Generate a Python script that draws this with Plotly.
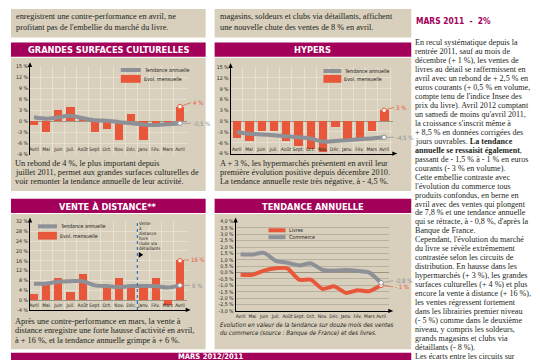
import plotly.graph_objects as go

W, H = 540, 360


def fx(p):
    return p / W


def fy(p):
    return 1 - p / H


# ---------------- data ----------------
months = ["Avril", "Mai", "Juin", "Juil.", "Août", "Sept.", "Oct.", "Nov.",
          "Déc.", "Janv.", "Fév.", "Mars", "Avril"]

gsc_monthly = [-1.0, -2.9, 3.0, 4.0, 0.9, -2.9, -2.0, -5.0, 2.0, -5.0, -0.5, -0.4, 4.0]
gsc_trend = [1.1, 0.7, 1.1, 1.5, 0.9, 0.3, 0.2, -0.2, -0.5, -0.9, -1.0, -0.8, -0.5]

hyp_monthly = [-4.7, -5.6, -2.8, -2.8, -5.6, -6.8, -7.8, -8.5, -1.7, -5.0, -5.0, -2.8, 3.0]
hyp_trend = [-3.0, -3.5, -3.7, -3.9, -4.2, -4.5, -4.8, -5.7, -5.5, -5.3, -5.0, -4.8, -4.5]

vad_monthly = [2.4, 6.0, 9.0, 3.3, 10.3, 0.0, 5.3, 9.0, 5.3, 5.0, 9.0, -2.2, 16.0]
vad_trend = [6.7, 6.7, 7.5, 7.7, 7.7, 6.0, 5.7, 5.3, 5.7, 5.7, 5.7, 5.1, 6.0]

ta_livres = [-0.18, -0.18, 0.15, 0.33, 0.33, -0.56, -0.56, -1.28, -1.08, -1.59, -1.38, -1.46, -1.0]
ta_commerce = [1.44, 1.41, 1.54, 0.92, 0.77, 0.56, 0.72, 0.2, 0.15, 0.2, 0.13, 0.0, -0.8]

gsc_ticks = [-9, -6, -3, 0, 3, 6, 9, 12, 15]
hyp_ticks = [-9, -6, -3, 0, 3, 6, 9, 12, 15]
vad_ticks = [-4, 0, 4, 8, 12, 16, 20, 24, 28, 32]
ta_ticks = [-3.0, -2.5, -2.0, -1.5, -1.0, -0.5, 0.0, 0.5, 1.0, 1.5, 2.0, 2.5, 3.0, 3.5, 4.0]

right_lines = [
    "En recul systématique depuis la",
    "rentrée 2011, sauf au mois de",
    "décembre (+ 1 %), les ventes de",
    "livres au détail se raffermissent en",
    "avril avec un rebond de + 2,5 % en",
    "euros courants (+ 0,5 % en volume,",
    "compte tenu de l'indice Insee des",
    "prix du livre). Avril 2012 comptant",
    "un samedi de moins qu'avril 2011,",
    "la croissance s'inscrit même à",
    "+ 8,5 % en données corrigées des",
    "jours ouvrables. <b>La tendance</b>",
    "<b>annuelle se ressaisit également</b>,",
    "passant de - 1,5 % à - 1 % en euros",
    "courants (- 3 % en volume).",
    "Cette embellie contraste avec",
    "l'évolution du commerce tous",
    "produits confondus, en berne en",
    "avril avec des ventes qui plongent",
    "de 7,8 % et une tendance annuelle",
    "qui se rétracte, à - 0,8 %, d'après la",
    "Banque de France.",
    "Cependant, l'évolution du marché",
    "du livre se révèle extrêmement",
    "contrastée selon les circuits de",
    "distribution. En hausse dans les",
    "hypermarchés (+ 3 %), les grandes",
    "surfaces culturelles (+ 4 %) et plus",
    "encore la vente à distance (+ 16 %),",
    "les ventes régressent fortement",
    "dans les librairies premier niveau",
    "(- 5 %) comme dans le deuxième",
    "niveau, y compris les soldeurs,",
    "grands magasins et clubs via",
    "détaillants (- 8 %).",
    "Les écarts entre les circuits sur",
]

# ---------------- styles ----------------
MAGENTA = "#a3005a"
PANEL = "#d8cfbc"
ORANGE = "#e9573b"
GRAY = "#8d9097"
TXT = "#231f20"
GRID = "#e7e0d1"
SERIF = "Liberation Serif, DejaVu Serif, serif"
COND = "Liberation Sans Narrow, DejaVu Sans Condensed, Roboto Condensed, Arial Narrow, Roboto, sans-serif"

fig = go.Figure()
shapes = []
ann = []


def rect(x0, y0, x1, y1, color):
    shapes.append(dict(type="rect", xref="paper", yref="paper", x0=fx(x0), x1=fx(x1),
                       y0=fy(y1), y1=fy(y0), fillcolor=color, line=dict(width=0),
                       layer="below"))


def line(x0, y0, x1, y1, color, width, dash=None, layer="above"):
    d = dict(type="line", xref="paper", yref="paper", x0=fx(x0), x1=fx(x1),
             y0=fy(y0), y1=fy(y1), line=dict(color=color, width=width), layer=layer)
    if dash:
        d["line"]["dash"] = dash
    shapes.append(d)


def tri(points, color):
    path = "M " + " L ".join(f"{fx(a)},{fy(b)}" for a, b in points) + " Z"
    shapes.append(dict(type="path", xref="paper", yref="paper", path=path,
                       fillcolor=color, line=dict(width=0)))


def text(x, y, s, size, color=TXT, family=SERIF, anchor="left"):
    ann.append(dict(xref="paper", yref="paper", x=fx(x), y=fy(y), text=s,
                    showarrow=False, xanchor=anchor, yanchor="middle",
                    font=dict(size=size, color=color, family=family)))


# panels
rect(2, -2, 197, 27, PANEL)
rect(206, -2, 403, 27, PANEL)
rect(2, 32, 197, 46.5, MAGENTA)
rect(2, 47.5, 197, 183, PANEL)
rect(206, 32, 403, 46.5, MAGENTA)
rect(206, 47.5, 403, 183, PANEL)
rect(2, 191, 197, 205.5, MAGENTA)
rect(2, 206.5, 197, 344, PANEL)
rect(206, 191, 403, 205.5, MAGENTA)
rect(206, 206.5, 403, 344, PANEL)
rect(2, 347.5, 403, 362, MAGENTA)

# titles
TS = 9.2
text(99.5, 39.5, "<b>GRANDES SURFACES CULTURELLES</b>", TS, "white", COND, "center")
text(304.5, 39.5, "<b>HYPERS</b>", TS, "white", COND, "center")
text(99.5, 198.5, "<b>VENTE À DISTANCE**</b>", TS, "white", COND, "center")
text(304.5, 198.5, "<b>TENDANCE ANNUELLE</b>", TS, "white", COND, "center")
text(202, 351.8, "<b>MARS 2012/2011</b>", 7.6, "white", COND, "center")

# top text boxes
text(5, 6, "enregistrent une contre-performance en avril, ne", 8.3)
text(5, 17, "profitant pas de l'embellie du marché du livre.", 8.3)
text(209, 6, "magasins, soldeurs et clubs via détaillants, affichent", 8.3)
text(209, 17, "une nouvelle chute des ventes de 8 % en avril.", 8.3)

# captions
for i, s in enumerate(["Un rebond de 4 %, le plus important depuis",
                       "juillet 2011, permet aux grandes surfaces culturelles de",
                       "voir remonter la tendance annuelle de leur activité."]):
    text(4, 155 + i * 9.3, s, 8.3)
for i, s in enumerate(["A + 3 %, les hypermarchés présentent en avril leur",
                       "première évolution positive depuis décembre 2010.",
                       "La tendance annuelle reste très négative, à - 4,5 %."]):
    text(209, 155 + i * 9.3, s, 8.3)
for i, s in enumerate(["Après une contre-performance en mars, la vente à",
                       "distance enregistre une forte hausse d'activité en avril,",
                       "à + 16 %, et la tendance annuelle grimpe à + 6 %."]):
    text(4, 316 + i * 9.3, s, 8.3)
for i, s in enumerate(["<i>Evolution en valeur de la tendance sur douze mois des ventes</i>",
                       "<i>du commerce (source : Banque de France) et des livres.</i>"]):
    text(209, 319 + i * 8.3, s, 6.2, TXT, COND)

# right column
text(406, 10, "<b>MARS 2011  -  2%</b>", 8.4, MAGENTA, COND)
for i, s in enumerate(right_lines):
    text(405, 32.5 + i * 9.1, s, 8.1)

# ---------------- charts ----------------
x = list(range(len(months)))

# chart geometry in pixels
geo = {
    1: dict(l=21, r=178, t=56, b=146, xr=[-0.33, 12.55], yr=[-9, 15]),
    2: dict(l=222, r=385, t=57, b=145, xr=[-0.5, 12.75], yr=[-9, 15]),
    3: dict(l=21, r=178, t=214, b=304, xr=[-0.33, 12.55], yr=[-4, 32]),
    4: dict(l=227, r=381, t=214, b=305, xr=[-0.43, 12.7], yr=[-3, 4]),
}

series = {
    1: (gsc_monthly, gsc_trend, gsc_ticks),
    2: (hyp_monthly, hyp_trend, hyp_ticks),
    3: (vad_monthly, vad_trend, vad_ticks),
}

for n in (1, 2, 3):
    monthly, trend, ticks = series[n]
    xa = "x" if n == 1 else f"x{n}"
    ya = "y" if n == 1 else f"y{n}"
    fig.add_trace(go.Bar(x=x, y=monthly, width=0.68, marker=dict(color=ORANGE, line=dict(width=0)),
                         xaxis=xa, yaxis=ya, showlegend=False, hoverinfo="skip"))
    fig.add_trace(go.Scatter(x=x, y=trend, mode="lines", line=dict(color=GRAY, width=4, shape="spline", smoothing=0.6),
                             xaxis=xa, yaxis=ya, showlegend=False, hoverinfo="skip"))
    fig.add_trace(go.Scatter(x=[x[-1]], y=[monthly[-1]], mode="markers",
                             marker=dict(color="white", size=4.5, line=dict(color=ORANGE, width=1)),
                             xaxis=xa, yaxis=ya, showlegend=False, hoverinfo="skip"))
    fig.add_trace(go.Scatter(x=[x[-1]], y=[trend[-1]], mode="markers",
                             marker=dict(color="white", size=4.5, line=dict(color=GRAY, width=1)),
                             xaxis=xa, yaxis=ya, showlegend=False, hoverinfo="skip"))

fig.add_trace(go.Scatter(x=x, y=ta_livres, mode="lines", line=dict(color=ORANGE, width=4, shape="spline", smoothing=0.5),
                         xaxis="x4", yaxis="y4", showlegend=False, hoverinfo="skip"))
fig.add_trace(go.Scatter(x=x, y=ta_commerce, mode="lines", line=dict(color=GRAY, width=4, shape="spline", smoothing=0.5),
                         xaxis="x4", yaxis="y4", showlegend=False, hoverinfo="skip"))
fig.add_trace(go.Scatter(x=[x[-1]], y=[ta_livres[-1]], mode="markers",
                         marker=dict(color="white", size=4.5, line=dict(color=ORANGE, width=1)),
                         xaxis="x4", yaxis="y4", showlegend=False, hoverinfo="skip"))
fig.add_trace(go.Scatter(x=[x[-1]], y=[ta_commerce[-1]], mode="markers",
                         marker=dict(color="white", size=4.5, line=dict(color=GRAY, width=1)),
                         xaxis="x4", yaxis="y4", showlegend=False, hoverinfo="skip"))

tickfont = dict(size=5.2, color=TXT, family=COND)
xtickfont = dict(size=4.9, color=TXT, family=COND)
layout_axes = {}
for n, g in geo.items():
    xk = "xaxis" if n == 1 else f"xaxis{n}"
    yk = "yaxis" if n == 1 else f"yaxis{n}"
    xa = "x" if n == 1 else f"x{n}"
    ya = "y" if n == 1 else f"y{n}"
    if n == 4:
        yt = ta_ticks
        ytt = [f"{v:.1f}".replace(".", ",") + " %" for v in ta_ticks]
        ygrid = dict(showgrid=True, gridcolor="#b9b1a0", gridwidth=0.6)
    else:
        yt = series[n][2]
        ytt = [f"{v} %" for v in yt]
        ygrid = dict(showgrid=True, gridcolor=GRID, gridwidth=0.6)
    xax = dict(domain=[fx(g["l"]), fx(g["r"])], range=g["xr"], tickmode="array",
               tickvals=x, ticktext=months, tickfont=xtickfont, ticks="", tickangle=0,
               showgrid=False, zeroline=False, anchor=ya, fixedrange=True)
    if n == 1:
        xax.update(showline=False)
    else:
        xax.update(showline=True, linecolor="black", linewidth=1)
    if n != 4:
        xax.update(ticklabelposition="inside", ticklabeloverflow="allow",
                   minor=dict(tickmode="array", tickvals=[i + 0.5 for i in range(-1, 13)],
                              showgrid=True, gridcolor=GRID, gridwidth=0.7, ticks=""))
    layout_axes[xk] = xax
    layout_axes[yk] = dict(domain=[fy(g["b"]), fy(g["t"])], range=g["yr"], anchor=xa,
                           tickmode="array", tickvals=yt, ticktext=ytt, tickfont=tickfont,
                           ticks="", showline=True, linecolor="black", linewidth=1,
                           zeroline=True, zerolinecolor="#9c9484", zerolinewidth=0.7,
                           fixedrange=True, **ygrid)
    # y-axis arrow
    tri([(g["l"] - 2.2, g["t"] + 1), (g["l"], g["t"] - 4), (g["l"] + 2.2, g["t"] + 1)], "black")

# x-axis arrows (hypers, vad, ta)
for n in (2, 3, 4):
    g = geo[n]
    tri([(g["r"] - 1, g["b"] - 2.2), (g["r"] + 4, g["b"]), (g["r"] - 1, g["b"] + 2.2)], "black")


# legends
def legend_block(xl, y1, y2, width=20):
    line(xl, y1, xl + width, y1, GRAY, 4)
    rect(xl, y2 - 4, xl + width, y2 + 4, ORANGE)
    shapes[-1]["layer"] = "above"
    text(xl + width + 1, y1, "Tendance annuelle", 5.3, TXT, COND)
    text(xl + width + 1, y2, "Evol. mensuelle", 5.3, TXT, COND)


legend_block(112, 60, 69)
legend_block(315, 61, 69, 18)
legend_block(29, 219, 228.5, 19)
line(260, 223, 277, 223, ORANGE, 4)
line(260, 230, 277, 230, GRAY, 4)
text(279, 223, "Livres", 5.3, TXT, COND)
text(279, 230, "Commerce", 5.3, TXT, COND)

# VAD annotation: dashed separator + text + arrow
shapes.append(dict(type="line", xref="x3", yref="y3 domain", x0=8.5, x1=8.5, y0=0, y1=1,
                   line=dict(color="#2a78c0", width=1.2, dash="dot")))
for i, s in enumerate(["Vente", "à", "distance", "hors", "clubs via", "détaillants"]):
    text(128.5, 216.5 + i * 5.0, s, 4.5, TXT, COND)
tri([(130, 245), (134.5, 248), (130, 251)], "black")


# end-of-series labels
def end_label(n, yv, s, color, ax, ay):
    xa = "x" if n == 1 else f"x{n}"
    ya = "y" if n == 1 else f"y{n}"
    ann.append(dict(xref=xa, yref=ya, x=x[-1], y=yv, text=s, showarrow=True, arrowhead=0,
                    arrowwidth=0.7, arrowcolor=color, ax=ax, ay=ay, xanchor="left", yanchor="middle",
                    standoff=2.5, font=dict(size=6, color=color, family=COND)))


end_label(1, gsc_monthly[-1], "4 %", ORANGE, 11, -4)
end_label(1, gsc_trend[-1], "-0,5 %", GRAY, 11, 0)
end_label(2, hyp_monthly[-1], "3 %", ORANGE, 10, -3)
end_label(2, hyp_trend[-1], "-4,5 %", GRAY, 10, 0)
end_label(3, vad_monthly[-1], "16 %", ORANGE, 9, -1)
end_label(3, vad_trend[-1], "6 %", GRAY, 10, 0)
end_label(4, ta_commerce[-1], "-0,8 %", GRAY, 12, -2)
end_label(4, ta_livres[-1], "- 1 %", ORANGE, 12, 1.5)

fig.update_layout(
    width=W, height=H, margin=dict(l=0, r=0, t=0, b=0),
    paper_bgcolor="white", plot_bgcolor="rgba(0,0,0,0)",
    shapes=shapes, annotations=ann, showlegend=False, bargap=0,
    **layout_axes,
)

fig.write_html("out.html")
